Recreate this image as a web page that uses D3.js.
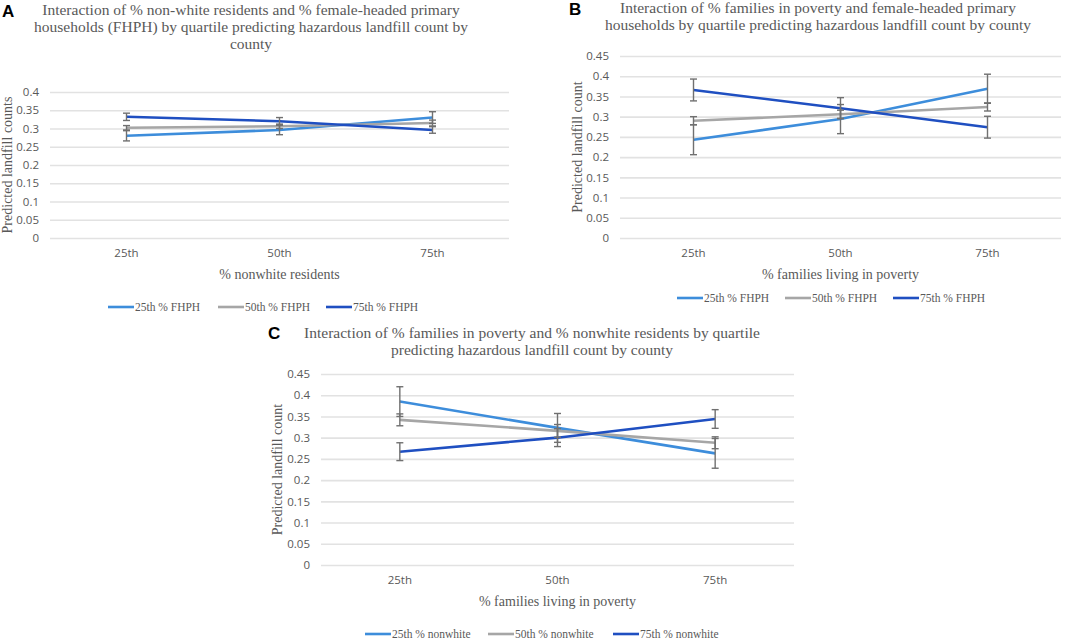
<!DOCTYPE html>
<html>
<head>
<meta charset="utf-8">
<script src="https://cdn.jsdelivr.net/npm/d3@7"></script>
<style>
  body { margin: 0; background: #fff; }
  svg { display: block; }
</style>
</head>
<body>
<div id="chart"></div>
<script>
// data
var quartiles = ["25th", "50th", "75th"];
var colors = ["#3d8ddb", "#a6a6a6", "#1f4fc1"];

var seriesA = ["25th % FHPH", "50th % FHPH", "75th % FHPH"];
var valuesA = [[0.280, 0.296, 0.330], [0.302, 0.306, 0.315], [0.332, 0.320, 0.296]];
var errorsA = [[0.014, 0.013, 0.016], [0.006, 0.006, 0.008], [0.010, 0.010, 0.009]];
var ticksA = [0, 0.05, 0.1, 0.15, 0.2, 0.25, 0.3, 0.35, 0.4];

var seriesB = ["25th % FHPH", "50th % FHPH", "75th % FHPH"];
var valuesB = [[0.243, 0.294, 0.369], [0.290, 0.306, 0.324], [0.366, 0.321, 0.274]];
var errorsB = [[0.037, 0.036, 0.036], [0.010, 0.010, 0.010], [0.027, 0.026, 0.027]];
var ticksB = [0, 0.05, 0.1, 0.15, 0.2, 0.25, 0.3, 0.35, 0.4, 0.45];

var seriesC = ["25th % nonwhite", "50th % nonwhite", "75th % nonwhite"];
var valuesC = [[0.385, 0.323, 0.263], [0.342, 0.316, 0.288], [0.267, 0.300, 0.344]];
var errorsC = [[0.035, 0.034, 0.035], [0.014, 0.015, 0.014], [0.021, 0.021, 0.022]];
var ticksC = ticksB;

var svg = d3.select("#chart").append("svg")
  .attr("width", 1084)
  .attr("height", 639);

function drawPanel(p) {
  var g = svg.append("g");

  // panel letter
  g.append("text")
    .attr("x", p.letterX).attr("y", p.letterY)
    .attr("font-family", "Liberation Sans, Arial, sans-serif")
    .attr("font-weight", "bold").attr("font-size", 17)
    .attr("fill", "#000")
    .text(p.letter);

  // title
  p.title.forEach(function(line, i) {
    g.append("text")
      .attr("x", p.titleX).attr("y", p.titleY + i * 17)
      .attr("text-anchor", "middle")
      .attr("font-family", "Liberation Serif, Times New Roman, serif")
      .attr("font-size", 15.5).attr("fill", "#595959")
      .text(line);
  });

  var x = d3.scaleBand().domain(quartiles).range([p.left, p.right]);
  var y = d3.scaleLinear().domain([0, d3.max(p.ticks)]).range([p.bottom, p.top]);

  // gridlines + y labels
  var yAxis = g.append("g")
    .attr("transform", "translate(" + p.left + ",0)")
    .call(d3.axisLeft(y).tickValues(p.ticks).tickSize(-(p.right - p.left)).tickPadding(11)
      .tickFormat(function(d) { return d3.format("")(+d.toFixed(2)); }));
  yAxis.select(".domain").remove();
  yAxis.selectAll(".tick line").attr("stroke", "#e2e2e2").attr("stroke-width", 1.6);
  yAxis.selectAll(".tick text")
    .attr("font-family", "Open Sans, Liberation Sans, sans-serif")
    .attr("font-size", 11.5).attr("fill", "#595959");

  // x labels
  var xAxis = g.append("g")
    .attr("transform", "translate(0," + p.bottom + ")")
    .call(d3.axisBottom(x).tickSize(0).tickPadding(11));
  xAxis.select(".domain").remove();
  xAxis.selectAll(".tick text")
    .attr("font-family", "Open Sans, Liberation Sans, sans-serif")
    .attr("font-size", 11.5).attr("fill", "#595959");

  // axis titles
  g.append("text")
    .attr("x", (p.left + p.right) / 2).attr("y", p.bottom + 41)
    .attr("text-anchor", "middle")
    .attr("font-family", "Liberation Serif, Times New Roman, serif")
    .attr("font-size", 14).attr("fill", "#595959")
    .text(p.xTitle);

  g.append("text")
    .attr("transform", "translate(" + p.yTitleX + "," + ((p.top + p.bottom) / 2) + ") rotate(-90)")
    .attr("text-anchor", "middle")
    .attr("font-family", "Liberation Serif, Times New Roman, serif")
    .attr("font-size", 14).attr("fill", "#595959")
    .text(p.yTitle);

  var line = d3.line()
    .x(function(d, i) { return x(quartiles[i]) + x.bandwidth() / 2; })
    .y(function(d) { return y(d); });

  // lines
  p.values.forEach(function(vals, s) {
    g.append("path")
      .datum(vals)
      .attr("d", line)
      .attr("fill", "none")
      .attr("stroke", colors[s])
      .attr("stroke-width", 2.6);
  });

  // error bars
  p.values.forEach(function(vals, s) {
    vals.forEach(function(v, i) {
      var cx = x(quartiles[i]) + x.bandwidth() / 2;
      var e = p.errors[s][i];
      var eb = g.append("g").attr("stroke", "#707070").attr("stroke-width", 1.4);
      eb.append("line").attr("x1", cx).attr("x2", cx).attr("y1", y(v - e)).attr("y2", y(v + e));
      eb.append("line").attr("x1", cx - 3.5).attr("x2", cx + 3.5).attr("y1", y(v - e)).attr("y2", y(v - e));
      eb.append("line").attr("x1", cx - 3.5).attr("x2", cx + 3.5).attr("y1", y(v + e)).attr("y2", y(v + e));
    });
  });

  // legend
  p.series.forEach(function(name, s) {
    var lx = p.legendX[s];
    g.append("line")
      .attr("x1", lx).attr("x2", lx + 26)
      .attr("y1", p.legendY - 4).attr("y2", p.legendY - 4)
      .attr("stroke", colors[s]).attr("stroke-width", 2.6);
    g.append("text")
      .attr("x", lx + 27).attr("y", p.legendY)
      .attr("font-family", "Liberation Serif, Times New Roman, serif")
      .attr("font-size", 11.5).attr("fill", "#595959")
      .text(name);
  });
}

drawPanel({
  letter: "A", letterX: 2, letterY: 17,
  title: ["Interaction of % non-white residents and % female-headed primary",
          "households (FHPH) by quartile predicting hazardous landfill count by",
          "county"],
  titleX: 251, titleY: 15,
  left: 50, right: 509, top: 92, bottom: 238,
  ticks: ticksA, values: valuesA, errors: errorsA, series: seriesA,
  xTitle: "% nonwhite residents", yTitle: "Predicted landfill counts", yTitleX: 12,
  legendX: [108, 218, 326], legendY: 311
});

drawPanel({
  letter: "B", letterX: 569, letterY: 15,
  title: ["Interaction of % families in poverty and female-headed primary",
          "households by quartile predicting hazardous landfill count by county"],
  titleX: 818, titleY: 13,
  left: 620, right: 1061, top: 56, bottom: 238,
  ticks: ticksB, values: valuesB, errors: errorsB, series: seriesB,
  xTitle: "% families living in poverty", yTitle: "Predicted landfill count", yTitleX: 582,
  legendX: [677, 785, 893], legendY: 302
});

drawPanel({
  letter: "C", letterX: 268, letterY: 339,
  title: ["Interaction of % families in poverty and % nonwhite residents by quartile",
          "predicting hazardous landfill count by county"],
  titleX: 532, titleY: 338,
  left: 321, right: 794, top: 374, bottom: 565,
  ticks: ticksC, values: valuesC, errors: errorsC, series: seriesC,
  xTitle: "% families living in poverty", yTitle: "Predicted landfill count", yTitleX: 282,
  legendX: [365, 488, 613], legendY: 638
});
</script>
</body>
</html>
